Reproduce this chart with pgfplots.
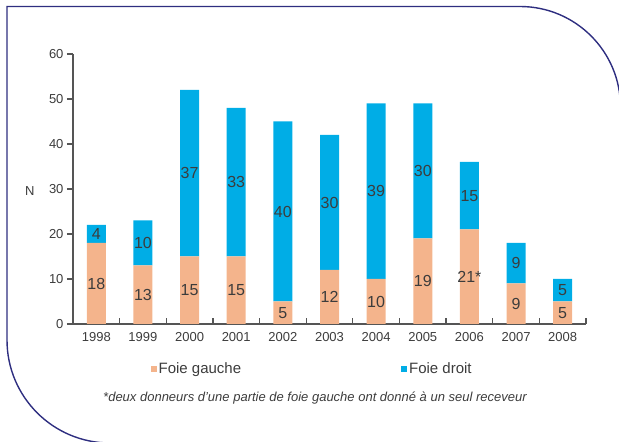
\documentclass[border=0pt]{standalone}
\usepackage{pgfplots}
\pgfplotsset{compat=1.18}
\usepackage{fontspec}
\setmainfont{Liberation Sans}
\definecolor{gauche}{RGB}{244,180,140}
\definecolor{droit}{RGB}{0,173,230}
\definecolor{framec}{RGB}{46,46,128}
\definecolor{txt}{RGB}{60,60,60}
\definecolor{axc}{RGB}{85,85,85}
\begin{document}
\begin{tikzpicture}[x=1pt,y=1pt]
\draw[framec, line width=1.4pt] (620.5,-10) -- (620.5,335) arc[start angle=0,end angle=90,radius=100.5] -- (7,435.5) -- (7,102) arc[start angle=180,end angle=270,radius=103] -- (700,-1);
\begin{axis}[
  at={(73pt,118pt)}, anchor=south west,
  width=513pt, height=270pt, scale only axis,
  ybar stacked, bar width=19pt,
  xmin=-0.5, xmax=10.5, ymin=0, ymax=60,
  axis x line*=bottom, axis y line*=left,
  xtick={0,...,10},
  xticklabels={1998,1999,2000,2001,2002,2003,2004,2005,2006,2007,2008},
  major x tick style={draw=none},
  minor xtick={0.5,1.5,...,10.5},
  xtick align=inside, ytick align=outside,
  ytick={0,10,...,60},
  major tick length=6pt, minor tick length=6pt,
  axis line style={axc, line width=1.2pt},
  every tick/.style={axc, line width=1.2pt},
  /pgf/number format/assume math mode=true,
  tick label style={font=\fontsize{13}{13}\selectfont, text=txt},
  xticklabel style={yshift=-5pt},
  ylabel={N},
  ylabel style={rotate=-90, at={(axis description cs:-0.084,0.494)}, anchor=center, font=\fontsize{13}{13}\selectfont, text=txt},
  legend columns=2,
  legend style={draw=none, fill=none, at={(axis description cs:0.145,-0.167)}, anchor=west,
    font=\fontsize{15}{16}\selectfont, text=txt,
    /tikz/every even column/.append style={column sep=158pt}},
  legend image code/.code={\fill[#1] (0pt,-3pt) rectangle (6pt,3pt);},
]
\addplot[fill=gauche, draw=none] coordinates {(0,18) (1,13) (2,15) (3,15) (4,5) (5,12) (6,10) (7,19) (8,21) (9,9) (10,5)};
\addlegendentry{Foie gauche}
\addplot[fill=droit, draw=none] coordinates {(0,4) (1,10) (2,37) (3,33) (4,40) (5,30) (6,39) (7,30) (8,15) (9,9) (10,5)};
\addlegendentry{Foie droit}
\end{axis}
\begin{axis}[
  at={(73pt,118pt)}, anchor=south west,
  width=513pt, height=270pt, scale only axis,
  xmin=-0.5, xmax=10.5, ymin=0, ymax=60, hide axis, clip=false]
\addplot[only marks, mark=*, mark size=0pt, mark options={draw=none, fill=none}, nodes near coords, point meta=explicit symbolic,
  every node near coord/.style={anchor=center, font=\fontsize{16}{16}\selectfont, text=txt}]
  coordinates {(0,9)[18] (1,6.5)[13] (2,7.5)[15] (3,7.5)[15] (4,2.5)[5] (5,6)[12] (6,5)[10] (7,9.5)[19] (8,10.5)[21*] (9,4.5)[9] (10,2.5)[5]
  (0,20)[4] (1,18)[10] (2,33.5)[37] (3,31.5)[33] (4,25)[40] (5,27)[30] (6,29.5)[39] (7,34)[30] (8,28.5)[15] (9,13.5)[9] (10,7.5)[5]};
\end{axis}
\node[font=\itshape\fontsize{13}{13}\selectfont, text=txt] at (315,44) {*deux donneurs d'une partie de foie gauche ont donné à un seul receveur};
\pgfresetboundingbox
\useasboundingbox (0,0) rectangle (619,442);
\end{tikzpicture}
\end{document}
